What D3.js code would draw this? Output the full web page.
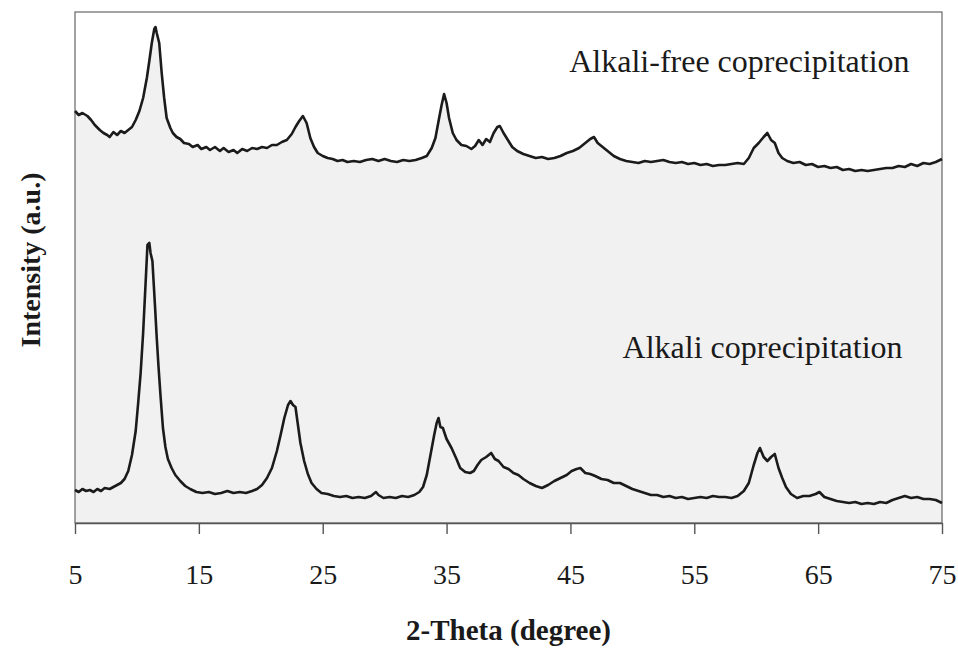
<!DOCTYPE html>
<html>
<head>
<meta charset="utf-8">
<script src="https://cdn.jsdelivr.net/npm/d3@7"></script>
<style>
  html, body { margin: 0; padding: 0; background: #ffffff; }
  svg { display: block; }
  text { font-family: "Liberation Serif", "Times New Roman", serif; fill: #1a1a1a; }
</style>
</head>
<body>
<svg id="chart" width="958" height="649"></svg>
<script>
// XRD patterns: [2-theta (degree), intensity (a.u.)]
const alkaliFree = [
  [5.0,412],[5.3,408],[5.6,410],[6.0,407],[6.3,403],[6.6,398],[7.0,393],[7.3,390],[7.6,388],[7.8,386],
  [8.1,391],[8.4,388],[8.7,392],[9.0,390],[9.3,393],[9.6,396],[9.9,403],[10.2,412],[10.5,425],[10.8,445],
  [11.0,462],[11.2,480],[11.4,494],[11.5,496],[11.6,490],[11.8,480],[12.0,450],[12.2,425],[12.4,405],[12.7,395],
  [12.9,390],[13.2,386],[13.5,384],[13.8,380],[14.2,379],[14.5,376],[14.9,378],[15.2,374],[15.6,376],[15.9,373],
  [16.3,376],[16.7,372],[17.0,375],[17.4,371],[17.8,373],[18.1,370],[18.5,374],[18.9,372],[19.3,375],[19.7,374],
  [20.1,376],[20.5,375],[20.9,378],[21.3,378],[21.7,381],[22.1,383],[22.5,389],[22.8,396],[23.1,402],[23.4,407],
  [23.7,400],[24.0,385],[24.3,376],[24.6,370],[25.0,367],[25.4,365],[25.8,364],[26.2,362],[26.6,363],[27.0,361],
  [27.5,362],[28.0,361],[28.5,363],[29.0,364],[29.5,362],[30.0,364],[30.5,362],[31.0,361],[31.5,363],[32.0,362],
  [32.5,363],[33.0,365],[33.4,367],[33.8,375],[34.1,385],[34.4,405],[34.6,418],[34.8,429],[35.0,420],[35.2,405],
  [35.5,390],[35.8,383],[36.2,378],[36.6,377],[37.0,374],[37.3,377],[37.6,383],[37.9,378],[38.2,384],[38.5,381],
  [38.8,390],[39.1,396],[39.3,397],[39.6,390],[39.9,384],[40.3,376],[40.7,372],[41.2,369],[41.7,367],[42.2,365],
  [42.7,366],[43.2,364],[43.7,365],[44.2,367],[44.7,370],[45.2,372],[45.7,375],[46.2,380],[46.6,384],[46.9,386],
  [47.2,380],[47.6,376],[48.0,372],[48.5,367],[49.0,364],[49.5,362],[50.0,361],[50.5,360],[51.0,362],[51.5,361],
  [52.0,362],[52.5,363],[53.0,361],[53.5,360],[54.0,361],[54.5,359],[55.0,360],[55.5,358],[56.0,359],[56.5,357],
  [57.0,358],[57.5,358],[58.0,359],[58.5,360],[59.0,359],[59.4,365],[59.8,375],[60.2,380],[60.6,386],[60.9,390],
  [61.2,383],[61.5,380],[61.8,370],[62.1,365],[62.5,362],[63.0,360],[63.5,361],[64.0,358],[64.5,359],[65.0,356],
  [65.5,357],[66.0,355],[66.5,356],[67.0,353],[67.5,354],[68.0,352],[68.5,353],[69.0,352],[69.5,353],[70.0,354],
  [70.5,355],[71.0,355],[71.5,357],[72.0,356],[72.5,359],[73.0,357],[73.5,360],[74.0,359],[74.5,361],[75.0,364]
];

const alkali = [
  [5.0,33],[5.3,31],[5.6,34],[5.9,32],[6.2,33],[6.5,31],[6.8,34],[7.1,32],[7.4,35],[7.8,34],
  [8.1,36],[8.4,38],[8.7,40],[9.0,44],[9.3,52],[9.6,68],[9.9,92],[10.1,120],[10.3,150],[10.5,190],
  [10.7,240],[10.85,278],[11.0,280],[11.1,270],[11.25,262],[11.45,219],[11.6,185],[11.75,155],[11.9,128],[12.1,95],
  [12.3,76],[12.5,64],[12.8,55],[13.1,48],[13.5,42],[13.9,37],[14.3,34],[14.8,31],[15.3,30],[15.8,31],
  [16.3,29],[16.8,30],[17.3,32],[17.8,30],[18.3,31],[18.8,30],[19.3,32],[19.7,34],[20.1,38],[20.5,45],
  [20.9,55],[21.3,72],[21.6,88],[21.9,105],[22.2,118],[22.4,122],[22.6,118],[22.8,116],[23.0,98],[23.2,80],
  [23.5,62],[23.8,49],[24.1,40],[24.5,34],[24.9,30],[25.4,29],[25.9,27],[26.4,26],[26.9,27],[27.4,25],
  [27.9,26],[28.4,25],[28.9,27],[29.3,31],[29.5,28],[29.9,25],[30.4,26],[30.9,25],[31.4,27],[31.9,26],
  [32.4,28],[32.8,31],[33.1,36],[33.4,48],[33.7,68],[34.0,88],[34.2,100],[34.35,105],[34.5,96],[34.7,95],
  [35.0,84],[35.4,75],[35.8,64],[36.1,55],[36.5,51],[36.9,50],[37.2,52],[37.5,58],[37.8,63],[38.2,66],
  [38.6,70],[38.9,64],[39.2,62],[39.6,56],[40.0,54],[40.4,50],[40.8,48],[41.2,44],[41.7,40],[42.2,37],
  [42.7,35],[43.2,38],[43.7,42],[44.2,45],[44.7,48],[45.1,52],[45.5,54],[45.8,55],[46.2,50],[46.6,49],
  [47.0,47],[47.5,44],[48.0,43],[48.5,40],[49.0,40],[49.5,37],[50.0,34],[50.5,32],[51.0,30],[51.5,28],
  [52.0,28],[52.5,26],[53.0,27],[53.5,25],[54.0,26],[54.5,24],[55.0,25],[55.5,26],[56.0,25],[56.5,27],
  [57.0,26],[57.5,26],[58.0,25],[58.5,27],[59.0,32],[59.4,40],[59.8,58],[60.1,70],[60.3,75],[60.6,66],
  [60.9,62],[61.2,66],[61.5,69],[61.8,55],[62.1,45],[62.4,36],[62.8,29],[63.3,25],[63.8,27],[64.3,27],
  [64.8,29],[65.1,31],[65.5,26],[66.0,24],[66.5,22],[67.0,21],[67.5,20],[68.0,21],[68.5,19],[69.0,20],
  [69.5,19],[70.0,21],[70.5,20],[71.0,23],[71.5,25],[72.0,27],[72.5,25],[73.0,26],[73.5,24],[74.0,24],
  [74.5,23],[75.0,20]
];

const xTicks = [5, 15, 25, 35, 45, 55, 65, 75];
const xDomain = [5, 75];
const yDomain = [0, 511];

const seriesLabels = ["Alkali-free coprecipitation", "Alkali coprecipitation"];
const xTitle = "2-Theta (degree)";
const yTitle = "Intensity (a.u.)";

const svg = d3.select("#chart");
const m = { left: 75, right: 16, top: 12, bottom: 126 };
const W = 958, H = 649;
const iw = W - m.left - m.right, ih = H - m.top - m.bottom;

const x = d3.scaleLinear().domain(xDomain).range([0, iw]);
const y = d3.scaleLinear().domain(yDomain).range([ih, 0]);

const g = svg.append("g").attr("transform", `translate(${m.left},${m.top})`);

// plot background shading below the upper pattern
const area = d3.area().x(d => x(d[0])).y0(ih).y1(d => y(d[1]));
g.append("path").datum(alkaliFree).attr("d", area).attr("fill", "#f1f1f1");

// frame
g.append("rect").attr("x", 0).attr("y", 0).attr("width", iw).attr("height", ih)
  .attr("fill", "none").attr("stroke", "#666").attr("stroke-width", 1.2);

const line = d3.line().x(d => x(d[0])).y(d => y(d[1]));
[alkaliFree, alkali].forEach(s => {
  g.append("path").datum(s).attr("d", line)
    .attr("fill", "none").attr("stroke", "#1b1b1b")
    .attr("stroke-width", 2.6).attr("stroke-linejoin", "round");
});

// x axis
const ax = g.append("g").attr("transform", `translate(0,${ih})`)
  .call(d3.axisBottom(x).tickValues(xTicks).tickSize(11).tickSizeOuter(0).tickPadding(30));
ax.select(".domain").attr("stroke", "#555").attr("stroke-width", 1.4);
ax.selectAll(".tick line").attr("stroke", "#555").attr("stroke-width", 1.4);
ax.selectAll(".tick text").attr("font-size", 28).attr("font-family", "Liberation Serif, Times New Roman, serif").attr("fill", "#1a1a1a");

// series labels
g.append("text").attr("x", x(74.8) - iw * 0 - 30).attr("y", 60).attr("text-anchor", "end")
  .attr("font-size", 32).text(seriesLabels[0]);
g.append("text").attr("x", x(74.8) - 37).attr("y", 346).attr("text-anchor", "end")
  .attr("font-size", 32).text(seriesLabels[1]);

// axis titles
svg.append("text").attr("x", m.left + x(40)).attr("y", 640).attr("text-anchor", "middle")
  .attr("font-size", 29).attr("font-weight", "bold").text(xTitle);
svg.append("text").attr("transform", "translate(40,260) rotate(-90)").attr("text-anchor", "middle")
  .attr("font-size", 28).attr("font-weight", "bold").text(yTitle);
</script>
</body>
</html>
